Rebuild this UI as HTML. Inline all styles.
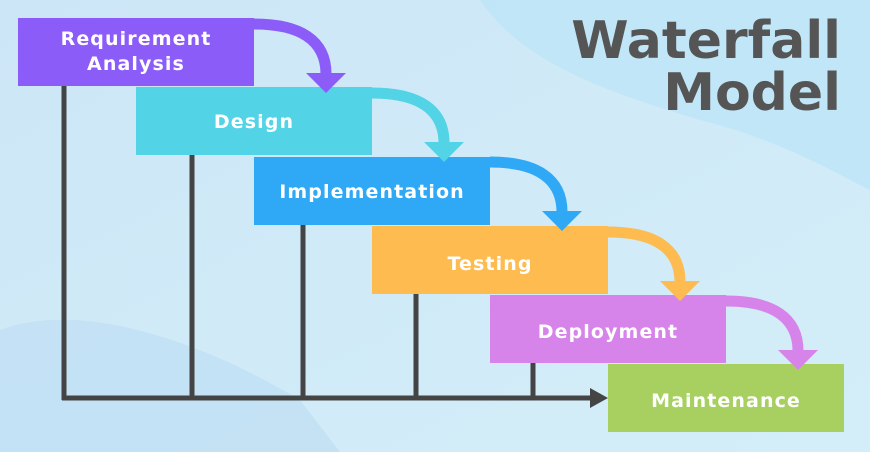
<!DOCTYPE html>
<html><head><style>
html,body{margin:0;padding:0;width:870px;height:452px;overflow:hidden}
</style></head><body>
<svg width="870" height="452" xmlns="http://www.w3.org/2000/svg" font-family="DejaVu Sans, sans-serif">
<defs>
<linearGradient id="bg" x1="0" y1="0" x2="1" y2="1">
<stop offset="0" stop-color="#cde6f7"/><stop offset="1" stop-color="#d3eef8"/>
</linearGradient>
</defs>
<rect width="870" height="452" fill="url(#bg)"/>
<path d="M480 0 C520 60 600 90 700 120 C780 140 830 170 870 190 L870 0 Z" fill="#b9e4f6" opacity="0.7"/>
<path d="M0 330 C80 300 200 340 300 400 L340 452 L0 452 Z" fill="#bcdcf3" opacity="0.6"/>
<g stroke="#444" stroke-width="5" fill="none">
<line x1="64" y1="86" x2="64" y2="400"/>
<line x1="192" y1="155" x2="192" y2="398"/>
<line x1="303" y1="225" x2="303" y2="398"/>
<line x1="416" y1="294" x2="416" y2="398"/>
<line x1="533" y1="363" x2="533" y2="398"/>
<line x1="62" y1="398" x2="592" y2="398"/>
</g>
<polygon points="590,388 608,398 590,408" fill="#444"/>
<g font-weight="bold" font-size="19" fill="#fff" text-anchor="middle" letter-spacing="1.1">
<rect x="18" y="18" width="236" height="68" fill="#8c5cf8"/>
<text x="136" y="45">Requirement</text><text x="136" y="70">Analysis</text>
<rect x="136" y="87" width="236" height="68" fill="#52d3e6"/>
<text x="254" y="128">Design</text>
<rect x="254" y="157" width="236" height="68" fill="#2fa9f6"/>
<text x="372" y="198">Implementation</text>
<rect x="372" y="226" width="236" height="68" fill="#fdbb50"/>
<text x="490" y="270">Testing</text>
<rect x="490" y="295" width="236" height="68" fill="#d784ea"/>
<text x="608" y="338">Deployment</text>
<rect x="608" y="364" width="236" height="68" fill="#a7d061"/>
<text x="726" y="407">Maintenance</text>
</g>
<g fill="none" stroke-width="11">
<path d="M254 24 C300 24 326 40 326 74" stroke="#8c5cf8"/>
<path d="M372 93 C418 93 444 109 444 143" stroke="#52d3e6"/>
<path d="M490 162 C536 162 562 178 562 212" stroke="#2fa9f6"/>
<path d="M608 232 C654 232 680 248 680 282" stroke="#fdbb50"/>
<path d="M726 301 C772 301 798 317 798 351" stroke="#d784ea"/>
</g>
<polygon points="306,73 346,73 326,93" fill="#8c5cf8"/>
<polygon points="424,142 464,142 444,162" fill="#52d3e6"/>
<polygon points="542,211 582,211 562,231" fill="#2fa9f6"/>
<polygon points="660,281 700,281 680,301" fill="#fdbb50"/>
<polygon points="778,350 818,350 798,370" fill="#d784ea"/>
<g font-weight="bold" font-size="52" fill="#555" text-anchor="end">
<text x="841" y="58">Waterfall</text>
<text x="841" y="110">Model</text>
</g>
</svg>
</body></html>
